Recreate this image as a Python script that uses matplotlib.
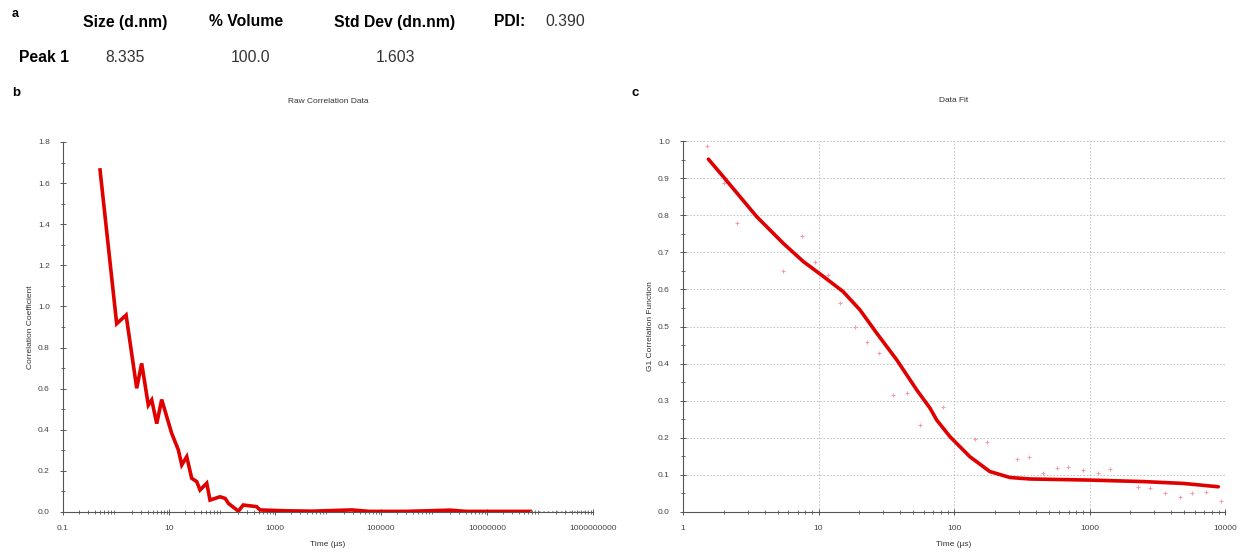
import numpy as np
import matplotlib
matplotlib.use('Agg')
import matplotlib.pyplot as plt
import matplotlib.ticker as ticker

plt.rcParams['font.family'] = ['Liberation Sans', 'DejaVu Sans']

# summary table (panel a)
table_header = ['Size (d.nm)', '% Volume', 'Std Dev (dn.nm)']
peak_values = ['8.335', '100.0', '1.603']
pdi_value = '0.390'

# raw correlation data (panel b)
raw_t = [0.5, 1.03, 1.55, 2.46, 3.05, 4.07, 4.72, 5.87, 7.28, 11.2, 15, 17.4, 21.6, 26.8,
         33.3, 38.5, 51.5, 59.4, 91.6, 115, 132, 204, 251, 449, 522, 1500, 5000, 28000,
         60000, 3e5, 2e6, 4e6, 6.5e7]
raw_g = [1.664, 0.916, 0.958, 0.602, 0.723, 0.52, 0.545, 0.43, 0.547, 0.384, 0.302, 0.229,
         0.269, 0.164, 0.148, 0.107, 0.14, 0.058, 0.074, 0.066, 0.042, 0.004, 0.034, 0.026,
         0.01, 0.006, 0.004, 0.01, 0.003, 0.003, 0.009, 0.003, 0.003]
tail_t = [6.5e7, 9e8]
tail_g = [0.0, 0.0]

# data fit (panel c)
fit_t = [1.54, 1.98, 3.5, 5.5, 7.73, 10.85, 15.2, 20.2, 26.9, 37.8, 53.1, 66.5, 74.5, 93.4,
         131, 184, 259, 364, 1009, 2494, 4923, 8920]
fit_g = [0.951, 0.904, 0.796, 0.724, 0.675, 0.635, 0.594, 0.545, 0.482, 0.41, 0.329, 0.28,
         0.248, 0.203, 0.149, 0.109, 0.093, 0.089, 0.086, 0.082, 0.077, 0.068]
pts_t = [1.5, 2.0, 2.49, 5.5, 7.5, 9.5, 11.8, 14.4, 18.6, 22.7, 28, 35.6, 44.8, 56, 83, 143,
         174, 290, 355, 457, 575, 695, 895, 1150, 1410, 2290, 2800, 3610, 4650, 5670, 7300, 9400]
pts_g = [0.987, 0.886, 0.778, 0.65, 0.745, 0.675, 0.639, 0.564, 0.5, 0.459, 0.428, 0.315,
         0.32, 0.235, 0.284, 0.196, 0.19, 0.142, 0.147, 0.104, 0.118, 0.122, 0.113, 0.106,
         0.115, 0.068, 0.064, 0.05, 0.04, 0.05, 0.055, 0.03]

fig = plt.figure(figsize=(12.42, 5.54), dpi=100)

# panel a text table
fs = 11.3
fig.text(12/1242, 1-14/554, 'a', fontsize=9, fontweight='bold', va='center')
for x, s in zip([125, 246, 395], table_header):
    fig.text(x/1242, 1-22/554, s, fontsize=fs, fontweight='bold', ha='center', va='center')
fig.text(510/1242, 1-22/554, 'PDI:', fontsize=fs, fontweight='bold', ha='center', va='center')
fig.text(565/1242, 1-22/554, pdi_value, fontsize=fs, color='#333333', ha='center', va='center')
fig.text(44/1242, 1-58/554, 'Peak 1', fontsize=fs, fontweight='bold', ha='center', va='center')
for x, s in zip([125, 251, 396], peak_values):
    fig.text(x/1242, 1-58/554, s, fontsize=fs, color='#333333', ha='center', va='center')
fig.text(12/1242, 1-93/554, 'b', fontsize=9.5, fontweight='bold', va='center')
fig.text(631/1242, 1-93/554, 'c', fontsize=9.5, fontweight='bold', va='center')


def style(ax):
    for s in ['top', 'right']:
        ax.spines[s].set_visible(False)
    for s in ['left', 'bottom']:
        ax.spines[s].set_color('#555555')
        ax.spines[s].set_linewidth(0.8)
    ax.tick_params(which='major', direction='inout', length=5, width=0.7, pad=7,
                   labelsize=6, colors='#555555', labelcolor='#444444')
    ax.tick_params(which='minor', direction='inout', length=3, width=0.6, colors='#555555')


# panel b
axb = fig.add_axes([63/1242, 1-512/554, 530/1242, 370/554])
style(axb)
axb.set_xscale('log')
axb.set_xlim(0.1, 1e9)
axb.set_ylim(0, 1.8)
axb.plot(raw_t, raw_g, color='#e00000', lw=2.6, solid_joinstyle='miter')
axb.plot(tail_t, tail_g, color='#8a9a8a', lw=1.2, ls=':')
axb.xaxis.set_major_locator(ticker.FixedLocator([0.1, 10, 1e3, 1e5, 1e7, 1e9]))
axb.xaxis.set_minor_locator(ticker.LogLocator(base=10, subs=np.arange(2, 10) * 1.0, numticks=30))
axb.xaxis.set_minor_formatter(ticker.NullFormatter())
axb.xaxis.set_major_formatter(ticker.FuncFormatter(lambda v, p: ('%g' % v) if v < 1 else '%d' % round(v)))
axb.yaxis.set_major_locator(ticker.MultipleLocator(0.2))
axb.yaxis.set_minor_locator(ticker.MultipleLocator(0.1))
axb.yaxis.set_major_formatter(ticker.FormatStrFormatter('%.1f'))
axb.set_title('Raw Correlation Data', fontsize=6, color='#333333', pad=28)
axb.set_xlabel('Time (\u00b5s)', fontsize=6, color='#333333', labelpad=6)
axb.set_ylabel('Correlation Coefficient', fontsize=6, color='#333333', labelpad=3)

# panel c
axc = fig.add_axes([683/1242, 1-512/554, 542/1242, 371/554])
style(axc)
axc.set_xscale('log')
axc.set_xlim(1, 10000)
axc.set_ylim(0, 1.0)
axc.grid(which='major', color='#bbbbbb', lw=0.6, ls=(0, (2, 2)))
axc.axvline(10000, color='#bbbbbb', lw=0.6, ls=(0, (2, 2)))
axc.scatter(pts_t, pts_g, s=5, color='#f0a0b0', marker='+', lw=0.8, zorder=3)
axc.plot(fit_t, fit_g, color='#e00000', lw=2.6, zorder=4, solid_capstyle='round')
axc.xaxis.set_major_locator(ticker.LogLocator(base=10))
axc.xaxis.set_minor_locator(ticker.LogLocator(base=10, subs=np.arange(2, 10) * 1.0, numticks=30))
axc.xaxis.set_minor_formatter(ticker.NullFormatter())
axc.xaxis.set_major_formatter(ticker.FuncFormatter(lambda v, p: '%d' % round(v)))
axc.yaxis.set_major_locator(ticker.MultipleLocator(0.1))
axc.yaxis.set_minor_locator(ticker.MultipleLocator(0.05))
axc.yaxis.set_major_formatter(ticker.FormatStrFormatter('%.1f'))
axc.set_title('Data Fit', fontsize=6, color='#333333', pad=28)
axc.set_xlabel('Time (\u00b5s)', fontsize=6, color='#333333', labelpad=6)
axc.set_ylabel('G1 Correlation Function', fontsize=6, color='#333333', labelpad=3)

fig.savefig('out.png', dpi=100)
